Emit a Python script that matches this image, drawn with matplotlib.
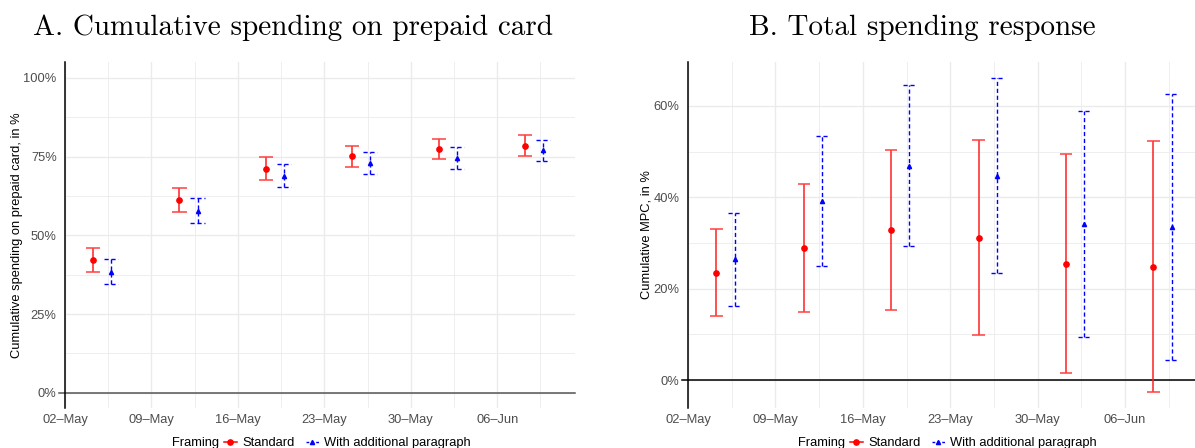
import matplotlib
matplotlib.use("Agg")
import matplotlib.pyplot as plt
import matplotlib.dates as mdates
from matplotlib.lines import Line2D
import numpy as np
import datetime as dt

# ---------------- data ----------------
weeks = ["2021-05-05", "2021-05-12", "2021-05-19", "2021-05-26", "2021-06-02", "2021-06-09"]

# Panel A: cumulative spending on prepaid card (%)
a_std_est = [42.2, 61.3, 71.1, 75.2, 77.4, 78.5]
a_std_lo = [38.5, 57.4, 67.5, 71.8, 74.1, 75.2]
a_std_hi = [46.1, 65.0, 74.7, 78.5, 80.5, 81.7]
a_add_est = [38.2, 57.7, 68.9, 72.8, 74.6, 77.0]
a_add_lo = [34.5, 53.9, 65.4, 69.3, 71.1, 73.6]
a_add_hi = [42.4, 61.8, 72.7, 76.4, 78.0, 80.2]

# Panel B: cumulative MPC (%)
b_std_est = [23.5, 29.0, 32.8, 31.2, 25.5, 24.8]
b_std_lo = [14.0, 15.0, 15.4, 9.8, 1.6, -2.7]
b_std_hi = [33.1, 43.0, 50.4, 52.6, 49.4, 52.3]
b_add_est = [26.4, 39.2, 46.8, 44.7, 34.2, 33.4]
b_add_lo = [16.2, 24.9, 29.3, 23.4, 9.5, 4.4]
b_add_hi = [36.6, 53.4, 64.5, 66.1, 58.8, 62.7]

xtick_dates = ["2021-05-02", "2021-05-09", "2021-05-16", "2021-05-23", "2021-05-30", "2021-06-06"]
xtick_labels = ["02\u2013May", "09\u2013May", "16\u2013May", "23\u2013May", "30\u2013May", "06\u2013Jun"]
series_labels = ["Standard", "With additional paragraph"]
legend_title = "Framing"

# ---------------- style ----------------
W, H = 1195, 448
DPI = 100
DODGE = 0.73     # days
GRID = "#EBEBEB"
TICKC = "#4D4D4D"
SANS = "Liberation Sans"
FS = 9.3

fig = plt.figure(figsize=(W / DPI, H / DPI), dpi=DPI)

def px_axes(x0, x1, y0, y1):
    return fig.add_axes([x0 / W, 1 - y1 / H, (x1 - x0) / W, (y1 - y0) / H])

centers = mdates.date2num([dt.datetime.fromisoformat(d) for d in weeks])
tick_pos = mdates.date2num([dt.datetime.fromisoformat(d) for d in xtick_dates])
minor_pos = tick_pos + 3.5

def panel(ax, std, add, xlim, ylim, yticks, yminor, ylabel, zero_color, capw, lpad):
    ax.set_xlim(*xlim)
    ax.set_ylim(*ylim)
    for s in ax.spines.values():
        s.set_visible(False)
    ax.spines["left"].set_visible(True)
    ax.spines["left"].set_color("black")
    ax.spines["left"].set_linewidth(1.1)
    ax.set_xticks(tick_pos)
    ax.set_xticklabels(xtick_labels)
    ax.set_xticks(minor_pos, minor=True)
    ax.set_yticks(yticks)
    ax.set_yticklabels([f"{v:g}%" for v in yticks])
    ax.set_yticks(yminor, minor=True)
    ax.tick_params(which="both", length=0, colors=TICKC, labelsize=FS)
    ax.tick_params(axis="y", pad=6)
    ax.tick_params(axis="x", pad=4)
    for lab in ax.get_xticklabels() + ax.get_yticklabels():
        lab.set_fontfamily(SANS)
    ax.grid(which="major", color=GRID, linewidth=1.0)
    ax.grid(which="minor", color=GRID, linewidth=0.6)
    ax.set_axisbelow(True)
    ax.axhline(0, color=zero_color, linewidth=1.1, xmin=-0.012, xmax=1, clip_on=False, zorder=2)
    ax.set_ylabel(ylabel, fontfamily=SANS, fontsize=FS, color="black", labelpad=lpad)

    est, lo, hi = std
    x = centers - DODGE
    ax.vlines(x, lo, hi, color="#FF2020", linewidth=1.1, zorder=3)
    ax.hlines(lo, x - capw, x + capw, color="#FF4040", linewidth=1.1, zorder=3)
    ax.hlines(hi, x - capw, x + capw, color="#FF4040", linewidth=1.1, zorder=3)
    ax.plot(x, est, "o", color="red", markersize=3.8, zorder=4, linestyle="none")

    est, lo, hi = add
    x = centers + DODGE
    ax.vlines(x, lo, hi, color="blue", linewidth=1.0, linestyles=(0, (3, 2)), zorder=3)
    ax.hlines(lo, x - capw, x + capw, color="blue", linewidth=1.0, linestyles=(0, (3, 2)), zorder=3)
    ax.hlines(hi, x - capw, x + capw, color="blue", linewidth=1.0, linestyles=(0, (3, 2)), zorder=3)
    ax.plot(x, est, "^", color="blue", markersize=3.0, zorder=4, linestyle="none")

may2 = mdates.date2num(dt.datetime(2021, 5, 2))

# Panel A
axA = px_axes(65, 575, 62, 408)
panel(axA, (a_std_est, a_std_lo, a_std_hi), (a_add_est, a_add_lo, a_add_hi),
      (may2, may2 + 41.3), (-4.8, 105.0), [0, 25, 50, 75, 100], [12.5, 37.5, 62.5, 87.5],
      "Cumulative spending on prepaid card, in %", "#555555", 0.57, 0)

# Panel B
axB = px_axes(688, 1195, 62, 408)
panel(axB, (b_std_est, b_std_lo, b_std_hi), (b_add_est, b_add_lo, b_add_hi),
      (may2, may2 + 40.6), (-6.1, 69.6), [0, 20, 40, 60], [10, 30, 50],
      "Cumulative MPC, in %", "black", 0.5, 1)

# Titles
fig.text(293 / W, 1 - 35 / H, "A. Cumulative spending on prepaid card", fontfamily="cmr10",
         fontsize=21, ha="center", va="baseline")
fig.text(922 / W, 1 - 35 / H, "B. Total spending response", fontfamily="cmr10",
         fontsize=21, ha="center", va="baseline")

# Legends
handles = [Line2D([], [], color="red", marker="o", markersize=3.8, linewidth=1.1),
           Line2D([], [], color="blue", marker="^", markersize=3.0, linewidth=1.0, linestyle=(0, (2, 1.5)))]
for fx, lx in [(171.7, 224), (798, 850)]:
    fig.text(fx / W, 1 - 443 / H, legend_title, fontfamily=SANS, fontsize=FS, ha="left", va="center")
    fig.legend(handles, series_labels, loc="center left", bbox_to_anchor=(lx / W, 1 - 443 / H),
               ncol=2, frameon=False, borderpad=0, borderaxespad=0, handlelength=1.0,
               handletextpad=0.4, columnspacing=0.9, prop={"family": SANS, "size": FS})

fig.savefig("out.png", dpi=DPI)
